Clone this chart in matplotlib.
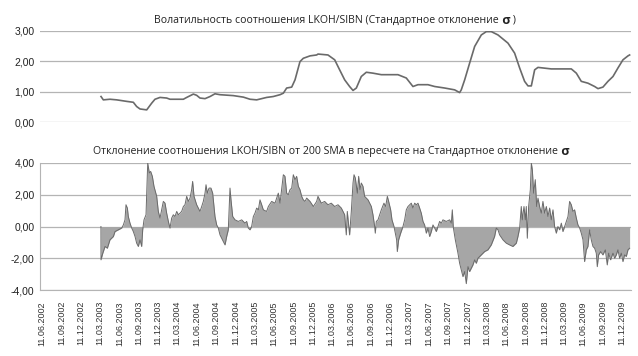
"""
LKOH/SIBN ratio: volatility (sigma) and deviation from 200 SMA in sigma units.
Output: out.png
"""
import matplotlib
matplotlib.use("Agg")
import matplotlib.pyplot as plt
import numpy as np

# ---------------------------------------------------------------------------
# Data (x = decimal year)
# ---------------------------------------------------------------------------

VOL_X = [
    2003.204, 2003.234, 2003.320, 2003.407, 2003.536, 2003.622, 2003.665, 2003.708,
    2003.795, 2003.859, 2003.902, 2003.967, 2004.053, 2004.096, 2004.269, 2004.312,
    2004.398, 2004.441, 2004.484, 2004.549, 2004.614, 2004.678, 2004.743, 2004.915,
    2005.045, 2005.131, 2005.217, 2005.346, 2005.432, 2005.519, 2005.562, 2005.605,
    2005.670, 2005.713, 2005.777, 2005.820, 2005.907, 2005.993, 2006.010, 2006.139,
    2006.226, 2006.290, 2006.355, 2006.419, 2006.463, 2006.506, 2006.570, 2006.635,
    2006.721, 2006.829, 2007.044, 2007.152, 2007.238, 2007.303, 2007.432, 2007.519,
    2007.648, 2007.777, 2007.842, 2007.863, 2007.907, 2007.971, 2008.036, 2008.122,
    2008.187, 2008.251, 2008.338, 2008.467, 2008.553, 2008.618, 2008.682, 2008.726,
    2008.769, 2008.812, 2008.855, 2009.027, 2009.286, 2009.351, 2009.415, 2009.501,
    2009.588, 2009.631, 2009.695, 2009.760, 2009.825, 2009.889, 2009.954, 2010.019,
    2010.040,
]
VOL_Y = [
    0.84, 0.73, 0.75, 0.73, 0.68, 0.65, 0.51, 0.43,
    0.40, 0.62, 0.75, 0.81, 0.79, 0.75, 0.75, 0.81,
    0.92, 0.88, 0.79, 0.77, 0.84, 0.93, 0.90, 0.87,
    0.82, 0.75, 0.73, 0.81, 0.84, 0.90, 0.95, 1.12,
    1.15, 1.39, 1.99, 2.10, 2.18, 2.21, 2.24, 2.21,
    2.05, 1.72, 1.39, 1.17, 1.04, 1.12, 1.50, 1.64,
    1.61, 1.56, 1.56, 1.45, 1.17, 1.23, 1.23, 1.17,
    1.12, 1.06, 0.97, 1.06, 1.39, 1.94, 2.49, 2.87,
    2.98, 2.98, 2.87, 2.60, 2.27, 1.78, 1.34, 1.19,
    1.19, 1.72, 1.80, 1.75, 1.75, 1.61, 1.34, 1.28,
    1.17, 1.10, 1.15, 1.34, 1.50, 1.78, 2.05, 2.18,
    2.21,
]

DEV_X = [
    2003.203, 2003.204, 2003.226, 2003.256, 2003.286, 2003.320, 2003.364, 2003.385,
    2003.428, 2003.471, 2003.493, 2003.514, 2003.527, 2003.545, 2003.557, 2003.579,
    2003.601, 2003.622, 2003.644, 2003.665, 2003.687, 2003.708, 2003.730, 2003.743,
    2003.760, 2003.786, 2003.808, 2003.829, 2003.846, 2003.868, 2003.889, 2003.924,
    2003.945, 2003.967, 2003.988, 2004.010, 2004.032, 2004.053, 2004.075, 2004.096,
    2004.118, 2004.139, 2004.161, 2004.183, 2004.204, 2004.226, 2004.247, 2004.269,
    2004.290, 2004.312, 2004.333, 2004.355, 2004.376, 2004.389, 2004.407, 2004.441,
    2004.484, 2004.506, 2004.527, 2004.549, 2004.562, 2004.579, 2004.601, 2004.626,
    2004.648, 2004.678, 2004.700, 2004.721, 2004.743, 2004.764, 2004.786, 2004.808,
    2004.829, 2004.850, 2004.872, 2004.885, 2004.907, 2004.937, 2004.980, 2005.023,
    2005.066, 2005.088, 2005.109, 2005.131, 2005.152, 2005.174, 2005.195, 2005.217,
    2005.239, 2005.260, 2005.282, 2005.303, 2005.346, 2005.368, 2005.411, 2005.454,
    2005.497, 2005.519, 2005.540, 2005.562, 2005.583, 2005.605, 2005.626, 2005.648,
    2005.670, 2005.691, 2005.713, 2005.734, 2005.756, 2005.777, 2005.799, 2005.820,
    2005.842, 2005.864, 2005.907, 2005.950, 2005.993, 2006.010, 2006.053, 2006.096,
    2006.139, 2006.182, 2006.226, 2006.269, 2006.312, 2006.355, 2006.376, 2006.389,
    2006.419, 2006.441, 2006.463, 2006.476, 2006.493, 2006.519, 2006.536, 2006.553,
    2006.570, 2006.592, 2006.613, 2006.657, 2006.700, 2006.721, 2006.743, 2006.751,
    2006.764, 2006.786, 2006.829, 2006.863, 2006.885, 2006.907, 2006.924, 2006.950,
    2006.967, 2006.993, 2007.010, 2007.027, 2007.036, 2007.053, 2007.079, 2007.109,
    2007.131, 2007.152, 2007.174, 2007.217, 2007.238, 2007.260, 2007.282, 2007.303,
    2007.325, 2007.346, 2007.368, 2007.389, 2007.411, 2007.432, 2007.454, 2007.476,
    2007.497, 2007.519, 2007.540, 2007.562, 2007.583, 2007.605, 2007.626, 2007.669,
    2007.713, 2007.734, 2007.747, 2007.760, 2007.786, 2007.820, 2007.842, 2007.863,
    2007.885, 2007.907, 2007.928, 2007.950, 2007.971, 2007.993, 2008.014, 2008.036,
    2008.057, 2008.079, 2008.122, 2008.165, 2008.208, 2008.251, 2008.294, 2008.316,
    2008.338, 2008.359, 2008.402, 2008.445, 2008.488, 2008.531, 2008.575, 2008.596,
    2008.618, 2008.639, 2008.652, 2008.674, 2008.691, 2008.704, 2008.717, 2008.734,
    2008.756, 2008.769, 2008.782, 2008.799, 2008.820, 2008.838, 2008.855, 2008.876,
    2008.898, 2008.919, 2008.941, 2008.963, 2008.984, 2009.006, 2009.027, 2009.049,
    2009.070, 2009.092, 2009.113, 2009.135, 2009.157, 2009.178, 2009.200, 2009.221,
    2009.243, 2009.264, 2009.286, 2009.307, 2009.329, 2009.351, 2009.372, 2009.394,
    2009.415, 2009.437, 2009.458, 2009.480, 2009.501, 2009.523, 2009.544, 2009.566,
    2009.588, 2009.609, 2009.622, 2009.639, 2009.665, 2009.695, 2009.726, 2009.751,
    2009.769, 2009.794, 2009.825, 2009.846, 2009.868, 2009.889, 2009.911, 2009.932,
    2009.954, 2009.975, 2009.997, 2010.019, 2010.040,
]
DEV_Y = [
    0.00, -2.10, -1.70, -1.26, -1.37, -0.84, -0.63, -0.32,
    -0.21, -0.10, 0.10, 0.42, 1.37, 1.16, 0.63, 0.21,
    -0.10, -0.32, -0.63, -1.05, -1.26, -0.84, -1.26, -0.21,
    0.42, 0.74, 4.00, 3.37, 3.47, 3.16, 2.53, 1.90,
    0.95, 0.53, 1.05, 1.58, 1.47, 0.84, 0.32, -0.10,
    0.53, 0.74, 0.63, 0.95, 0.74, 0.84, 0.95, 1.26,
    1.37, 1.90, 1.58, 1.79, 2.32, 2.84, 1.90, 1.37,
    0.95, 1.26, 1.58, 2.10, 2.63, 2.10, 2.42, 2.42,
    2.10, 0.63, 0.10, -0.10, -0.53, -0.74, -0.95, -1.16,
    -0.63, -0.21, 2.42, 1.68, 0.63, 0.42, 0.32, 0.42,
    0.21, 0.32, -0.10, -0.21, 0.00, 0.63, 0.84, 1.16,
    1.05, 1.68, 1.37, 1.05, 0.95, 1.26, 1.58, 1.47,
    2.10, 1.47, 2.32, 3.26, 3.16, 2.10, 2.00, 2.32,
    2.42, 3.26, 2.95, 3.16, 2.53, 2.32, 1.90, 1.68,
    1.58, 1.79, 1.58, 1.26, 1.58, 1.90, 1.47, 1.58,
    1.37, 1.47, 1.26, 1.37, 1.16, 0.74, -0.53, 0.95,
    -0.53, 0.95, 2.74, 3.26, 3.05, 2.10, 3.16, 2.32,
    2.74, 2.53, 1.90, 1.68, 1.26, 0.74, 0.00, -0.42,
    0.32, 0.42, 1.05, 1.47, 1.26, 1.90, 1.58, 1.05,
    0.42, 0.00, -0.42, -0.84, -1.58, -0.84, -0.42, 0.00,
    0.42, 1.05, 1.26, 1.47, 1.16, 1.47, 1.37, 1.47,
    1.16, 0.84, 0.32, 0.10, -0.42, -0.10, -0.63, -0.32,
    0.10, -0.10, -0.32, 0.00, 0.32, 0.21, 0.42, 0.32,
    0.42, 0.21, 1.05, -0.05, -0.84, -1.68, -2.32, -2.74,
    -3.16, -2.84, -3.60, -2.53, -2.84, -2.63, -2.42, -2.10,
    -2.32, -2.00, -1.79, -1.58, -1.47, -1.16, -0.63, -0.10,
    -0.21, -0.53, -0.84, -1.05, -1.16, -1.26, -1.05, -0.63,
    -0.10, 1.26, 0.42, 1.26, 0.42, 1.26, -0.74, 1.26,
    2.32, 4.00, 3.58, 2.10, 2.95, 1.26, 1.79, 1.26,
    0.84, 1.58, 0.84, 1.26, 0.63, 1.16, 0.42, 1.05,
    0.00, -0.42, 0.00, -0.21, 0.21, -0.32, 0.00, 0.32,
    0.63, 1.58, 1.37, 0.95, 1.05, 0.53, 0.10, -0.10,
    -0.42, -0.84, -2.21, -1.47, -1.26, -0.21, -0.84, -1.26,
    -1.37, -1.68, -2.53, -1.79, -1.58, -1.79, -1.47, -2.42,
    -1.68, -2.10, -1.68, -2.00, -1.79, -1.47, -2.00, -1.68,
    -2.21, -1.79, -1.89, -1.47, -1.37,
]

TICK_YEARS = [2002] * 3 + [y for y in range(2003, 2010) for _ in range(4)]
TICK_MONTHS = [6, 9, 12] + [3, 6, 9, 12] * 7
TICK_LABELS = [f"11.{m:02d}.{y}" for y, m in zip(TICK_YEARS, TICK_MONTHS)]

TOP_TITLE = [("Волатильность соотношения LKOH/SIBN (Стандартное отклонение", "normal"),
             (" σ", "bold"), (" )", "normal")]
BOT_TITLE = [("Отклонение соотношения LKOH/SIBN от 200 SMA в пересчете на Стандартное отклонение", "normal"),
             (" σ", "bold")]

# ---------------------------------------------------------------------------
# Helpers
# ---------------------------------------------------------------------------

GRID = "#b4b4b4"
LINE = "#6a6a6a"
FILL = "#a6a6a6"
TXT = "#222222"
TITLE_FONT = ["Open Sans", "DejaVu Sans"]
TICK_FONT = ["Liberation Sans", "DejaVu Sans"]


def decimal_year(y, m, d):
    days_before = [0, 31, 59, 90, 120, 151, 181, 212, 243, 273, 304, 334]
    return y + (days_before[m - 1] + d - 1) / 365.0


def comma_fmt(v, _pos=None):
    return f"{v:.2f}".replace(".", ",")


def draw_title(fig, cx_px, cy_px, parts, size):
    renderer = fig.canvas.get_renderer()
    W, H = fig.bbox.width, fig.bbox.height
    texts = []
    for s, weight in parts:
        fs = size + (1.5 if weight == "bold" else 0)
        texts.append(fig.text(0, 1 - cy_px / H, s, fontsize=fs, fontweight=weight,
                              family=TITLE_FONT, color=TXT, va="center", ha="left"))
    widths = [t.get_window_extent(renderer).width for t in texts]
    x = cx_px - sum(widths) / 2
    for t, w in zip(texts, widths):
        t.set_x(x / W)
        x += w


def style_axes(ax):
    for side in ("top", "right", "left", "bottom"):
        ax.spines[side].set_visible(False)
    ax.grid(axis="y", color=GRID, lw=0.9)
    ax.set_axisbelow(True)
    ax.tick_params(axis="both", length=0, labelsize=7.5, colors=TXT, pad=4)
    ax.yaxis.set_major_formatter(plt.FuncFormatter(comma_fmt))
    for lab in ax.get_yticklabels():
        lab.set_family(TICK_FONT)


# ---------------------------------------------------------------------------
# Figure
# ---------------------------------------------------------------------------

W_PX, H_PX = 638, 356
fig = plt.figure(figsize=(W_PX / 100, H_PX / 100), dpi=100)

x_left, x_right = 40 / W_PX, 631 / W_PX
ax_top = fig.add_axes([x_left, 1 - 122 / H_PX, x_right - x_left, 91 / H_PX])
ax_bot = fig.add_axes([x_left, 1 - 290 / H_PX, x_right - x_left, 127 / H_PX])

tick_pos = [decimal_year(y, m, 11) for y, m in zip(TICK_YEARS, TICK_MONTHS)]
xlim = (2002.415, 2010.058)

# top panel: volatility
ax_top.plot(VOL_X, VOL_Y, color=LINE, lw=1.2)
ax_top.set_xlim(*xlim)
ax_top.set_ylim(0, 3)
ax_top.set_yticks([0, 1, 2, 3])
ax_top.set_xticks([])
style_axes(ax_top)

# bottom panel: deviation from 200 SMA
ax_bot.fill_between(DEV_X, DEV_Y, 0, color=FILL, lw=0)
ax_bot.plot(DEV_X, DEV_Y, color=LINE, lw=0.7)
ax_bot.set_xlim(*xlim)
ax_bot.set_ylim(-4, 4)
ax_bot.set_yticks([-4, -2, 0, 2, 4])
style_axes(ax_bot)
ax_bot.spines["left"].set_visible(True)
ax_bot.spines["left"].set_color(GRID)
ax_bot.spines["bottom"].set_visible(True)
ax_bot.spines["bottom"].set_color(GRID)
ax_bot.set_xticks(tick_pos)
ax_bot.set_xticklabels(TICK_LABELS, rotation=90, fontsize=6.5, family=TICK_FONT,
                       color="#333333")
ax_bot.tick_params(axis="x", pad=8)

draw_title(fig, 335, 20, TOP_TITLE, 7.6)
draw_title(fig, 331, 152, BOT_TITLE, 7.6)

fig.savefig("out.png", dpi=100)
plt.close(fig)
